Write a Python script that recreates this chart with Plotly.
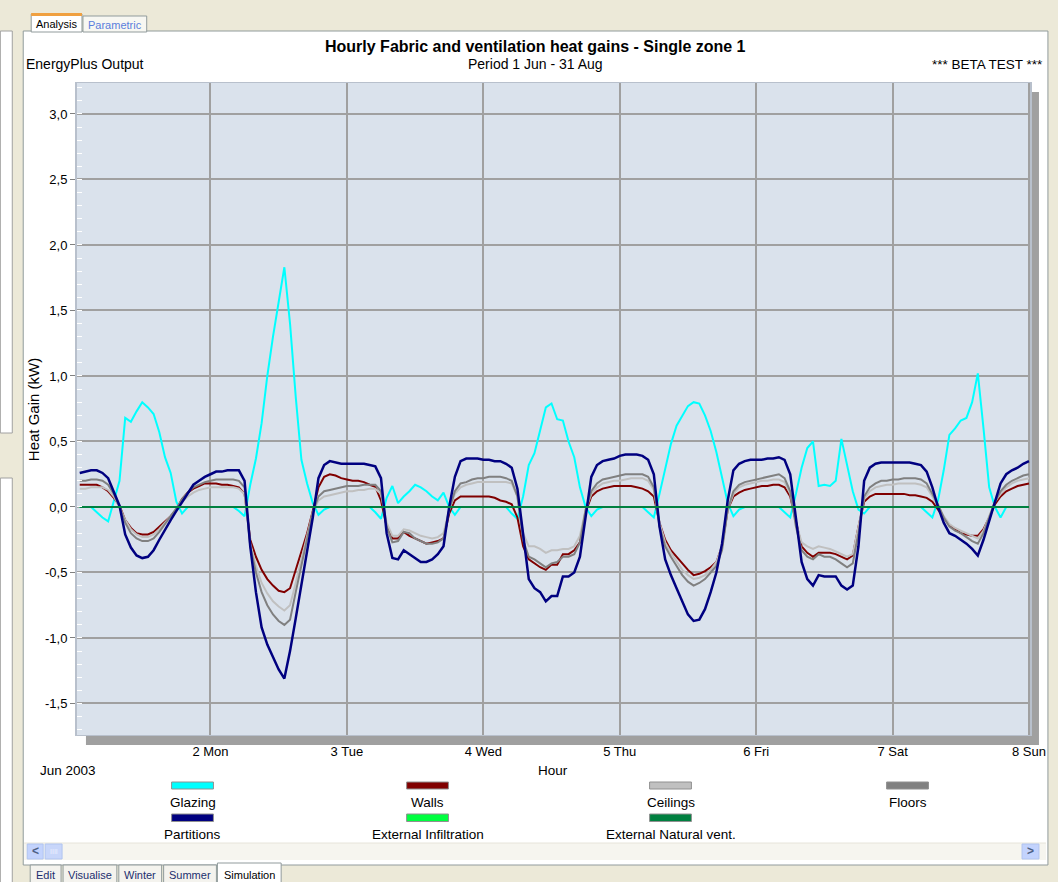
import plotly.graph_objects as go

# ---------------- data ----------------
hours = list(range(1, 169))  # hourly timesteps from 1 Jun 01:00

glazing = (
    [0, 0, 0, -0.04, -0.08, -0.11, 0.04, 0.2, 0.68, 0.65, 0.73, 0.8, 0.76, 0.71, 0.57, 0.38, 0.26, 0.04, -0.05, 0, 0, 0, 0, 0]
    + [0, 0, 0, 0, -0.03, -0.07, 0.17, 0.37, 0.64, 1.0, 1.3, 1.57, 1.83, 1.4, 0.84, 0.36, 0.18, 0.03, -0.06, -0.02, 0, 0, 0, 0]
    + [0, 0, 0, 0, -0.04, -0.09, 0.07, 0.16, 0.03, 0.08, 0.12, 0.17, 0.15, 0.12, 0.08, 0.05, 0.11, 0.0, -0.06, 0, 0, 0, 0, 0]
    + [0, 0, 0, 0, -0.05, -0.09, 0.08, 0.32, 0.41, 0.59, 0.76, 0.79, 0.67, 0.66, 0.5, 0.38, 0.15, 0.0, -0.07, -0.02, 0, 0, 0, 0]
    + [0, 0, 0, 0, -0.04, -0.08, 0.1, 0.3, 0.48, 0.62, 0.7, 0.77, 0.8, 0.79, 0.7, 0.58, 0.42, 0.22, 0.03, -0.07, -0.02, 0, 0, 0]
    + [0, 0, 0, 0, -0.04, -0.08, 0.1, 0.3, 0.45, 0.5, 0.16, 0.17, 0.16, 0.2, 0.52, 0.32, 0.12, -0.02, -0.05, 0, 0, 0, 0, 0]
    + [0, 0, 0, 0, 0, -0.04, -0.08, 0.05, 0.28, 0.55, 0.6, 0.66, 0.68, 0.8, 1.02, 0.6, 0.15, 0.0, -0.08, 0, 0, 0, 0, 0]
)

walls = (
    [0.17, 0.17, 0.17, 0.17, 0.15, 0.12, 0.07, 0.01, -0.1, -0.16, -0.2, -0.21, -0.21, -0.19, -0.15, -0.11, -0.07, -0.02, 0.06, 0.11, 0.14, 0.16, 0.18, 0.18]
    + [0.18, 0.17, 0.17, 0.16, 0.15, 0.1, -0.25, -0.38, -0.48, -0.55, -0.6, -0.64, -0.65, -0.62, -0.48, -0.35, -0.2, -0.03, 0.15, 0.23, 0.25, 0.24, 0.22, 0.21]
    + [0.2, 0.2, 0.19, 0.17, 0.155, 0.05, -0.15, -0.24, -0.24, -0.19, -0.22, -0.24, -0.26, -0.28, -0.27, -0.26, -0.24, -0.05, 0.05, 0.08, 0.08, 0.08, 0.08, 0.08]
    + [0.08, 0.07, 0.05, 0.04, 0.02, -0.08, -0.3, -0.4, -0.43, -0.46, -0.48, -0.44, -0.44, -0.36, -0.36, -0.33, -0.27, -0.04, 0.08, 0.12, 0.14, 0.15, 0.16, 0.16]
    + [0.16, 0.16, 0.15, 0.14, 0.12, 0.08, -0.12, -0.25, -0.33, -0.38, -0.43, -0.48, -0.52, -0.51, -0.49, -0.46, -0.42, -0.3, -0.02, 0.08, 0.11, 0.13, 0.14, 0.15]
    + [0.16, 0.16, 0.17, 0.17, 0.15, 0.08, -0.12, -0.3, -0.35, -0.38, -0.35, -0.35, -0.35, -0.36, -0.38, -0.4, -0.37, -0.15, 0.04, 0.08, 0.1, 0.1, 0.1, 0.1]
    + [0.1, 0.1, 0.09, 0.09, 0.08, 0.07, 0.04, -0.02, -0.08, -0.14, -0.17, -0.2, -0.21, -0.22, -0.22, -0.17, -0.08, 0.02, 0.08, 0.12, 0.14, 0.16, 0.17, 0.18]
)

ceilings = (
    [0.14, 0.14, 0.15, 0.15, 0.15, 0.13, 0.08, 0.0, -0.1, -0.17, -0.21, -0.23, -0.23, -0.21, -0.17, -0.12, -0.07, -0.02, 0.04, 0.08, 0.11, 0.13, 0.14, 0.15]
    + [0.15, 0.15, 0.15, 0.15, 0.14, 0.1, -0.28, -0.45, -0.58, -0.66, -0.72, -0.76, -0.79, -0.75, -0.58, -0.4, -0.22, -0.04, 0.05, 0.08, 0.09, 0.1, 0.11, 0.12]
    + [0.12, 0.13, 0.13, 0.14, 0.14, 0.1, -0.12, -0.22, -0.22, -0.17, -0.18, -0.2, -0.22, -0.23, -0.24, -0.23, -0.2, -0.02, 0.1, 0.15, 0.17, 0.18, 0.19, 0.19]
    + [0.19, 0.19, 0.19, 0.19, 0.18, 0.08, -0.2, -0.3, -0.3, -0.32, -0.35, -0.33, -0.33, -0.32, -0.32, -0.3, -0.22, -0.02, 0.1, 0.15, 0.18, 0.19, 0.2, 0.2]
    + [0.21, 0.22, 0.22, 0.22, 0.2, 0.13, -0.12, -0.27, -0.35, -0.42, -0.48, -0.52, -0.55, -0.54, -0.52, -0.48, -0.42, -0.3, -0.02, 0.1, 0.15, 0.17, 0.18, 0.19]
    + [0.2, 0.2, 0.21, 0.21, 0.19, 0.1, -0.12, -0.27, -0.3, -0.32, -0.3, -0.31, -0.32, -0.34, -0.36, -0.38, -0.36, -0.15, 0.06, 0.12, 0.15, 0.16, 0.17, 0.17]
    + [0.18, 0.18, 0.18, 0.18, 0.17, 0.15, 0.08, 0.0, -0.07, -0.13, -0.16, -0.18, -0.2, -0.22, -0.24, -0.18, -0.07, 0.04, 0.1, 0.15, 0.18, 0.2, 0.21, 0.22]
)

floors = (
    [0.2, 0.2, 0.21, 0.21, 0.2, 0.17, 0.1, 0.0, -0.12, -0.2, -0.24, -0.26, -0.26, -0.24, -0.19, -0.13, -0.07, -0.01, 0.06, 0.11, 0.15, 0.17, 0.19, 0.2]
    + [0.21, 0.21, 0.21, 0.21, 0.2, 0.15, -0.3, -0.5, -0.65, -0.75, -0.82, -0.87, -0.9, -0.86, -0.65, -0.45, -0.25, -0.04, 0.08, 0.12, 0.13, 0.14, 0.15, 0.16]
    + [0.16, 0.16, 0.17, 0.17, 0.17, 0.12, -0.15, -0.27, -0.26, -0.19, -0.2, -0.24, -0.26, -0.28, -0.28, -0.27, -0.24, -0.02, 0.12, 0.18, 0.19, 0.21, 0.22, 0.22]
    + [0.23, 0.23, 0.23, 0.22, 0.2, 0.08, -0.25, -0.38, -0.4, -0.43, -0.46, -0.43, -0.42, -0.38, -0.38, -0.36, -0.27, -0.02, 0.12, 0.18, 0.21, 0.22, 0.23, 0.24]
    + [0.25, 0.25, 0.25, 0.25, 0.23, 0.15, -0.15, -0.3, -0.38, -0.45, -0.52, -0.57, -0.6, -0.58, -0.55, -0.5, -0.45, -0.33, -0.02, 0.12, 0.17, 0.19, 0.2, 0.21]
    + [0.22, 0.23, 0.24, 0.25, 0.22, 0.12, -0.15, -0.33, -0.38, -0.4, -0.36, -0.38, -0.38, -0.4, -0.43, -0.46, -0.43, -0.2, 0.08, 0.15, 0.18, 0.2, 0.2, 0.21]
    + [0.21, 0.22, 0.22, 0.22, 0.21, 0.18, 0.1, 0.02, -0.08, -0.15, -0.18, -0.2, -0.23, -0.26, -0.28, -0.2, -0.08, 0.04, 0.12, 0.17, 0.2, 0.22, 0.24, 0.25]
)

partitions = (
    [0.26, 0.27, 0.28, 0.28, 0.26, 0.22, 0.12, 0.01, -0.21, -0.31, -0.37, -0.39, -0.38, -0.33, -0.25, -0.17, -0.1, -0.03, 0.04, 0.11, 0.17, 0.2, 0.23, 0.25]
    + [0.27, 0.27, 0.28, 0.28, 0.28, 0.2, -0.3, -0.65, -0.92, -1.05, -1.15, -1.24, -1.31, -1.1, -0.85, -0.6, -0.35, -0.08, 0.22, 0.32, 0.35, 0.34, 0.33, 0.33]
    + [0.33, 0.33, 0.33, 0.32, 0.31, 0.22, -0.2, -0.39, -0.4, -0.33, -0.36, -0.39, -0.42, -0.42, -0.4, -0.36, -0.3, 0.0, 0.23, 0.35, 0.37, 0.37, 0.37, 0.36]
    + [0.36, 0.35, 0.35, 0.33, 0.3, 0.14, -0.2, -0.55, -0.62, -0.65, -0.72, -0.68, -0.68, -0.53, -0.53, -0.5, -0.38, -0.06, 0.23, 0.32, 0.35, 0.36, 0.37, 0.39]
    + [0.4, 0.4, 0.4, 0.39, 0.36, 0.25, -0.15, -0.4, -0.52, -0.62, -0.72, -0.82, -0.87, -0.86, -0.78, -0.65, -0.5, -0.28, 0.05, 0.28, 0.33, 0.35, 0.36, 0.36]
    + [0.36, 0.37, 0.37, 0.38, 0.36, 0.25, -0.1, -0.42, -0.55, -0.6, -0.52, -0.53, -0.53, -0.53, -0.6, -0.63, -0.6, -0.3, 0.2, 0.3, 0.33, 0.34, 0.34, 0.34]
    + [0.34, 0.34, 0.34, 0.33, 0.32, 0.27, 0.15, 0.0, -0.12, -0.2, -0.22, -0.25, -0.28, -0.32, -0.37, -0.25, -0.1, 0.05, 0.18, 0.25, 0.28, 0.3, 0.33, 0.35]
)

ext_infiltration = (
    [0, 0, 0, 0, 0, 0, 0, 0, 0, 0, 0, 0, 0, 0, 0, 0, 0, 0, 0, 0, 0, 0, 0, 0]
    + [0, 0, 0, 0, 0, 0, 0, 0, 0, 0, 0, 0, 0, 0, 0, 0, 0, 0, 0, 0, 0, 0, 0, 0]
    + [0, 0, 0, 0, 0, 0, 0, 0, 0, 0, 0, 0, 0, 0, 0, 0, 0, 0, 0, 0, 0, 0, 0, 0]
    + [0, 0, 0, 0, 0, 0, 0, 0, 0, 0, 0, 0, 0, 0, 0, 0, 0, 0, 0, 0, 0, 0, 0, 0]
    + [0, 0, 0, 0, 0, 0, 0, 0, 0, 0, 0, 0, 0, 0, 0, 0, 0, 0, 0, 0, 0, 0, 0, 0]
    + [0, 0, 0, 0, 0, 0, 0, 0, 0, 0, 0, 0, 0, 0, 0, 0, 0, 0, 0, 0, 0, 0, 0, 0]
    + [0, 0, 0, 0, 0, 0, 0, 0, 0, 0, 0, 0, 0, 0, 0, 0, 0, 0, 0, 0, 0, 0, 0, 0]
)

ext_natural_vent = (
    [0, 0, 0, 0, 0, 0, 0, 0, 0, 0, 0, 0, 0, 0, 0, 0, 0, 0, 0, 0, 0, 0, 0, 0]
    + [0, 0, 0, 0, 0, 0, 0, 0, 0, 0, 0, 0, 0, 0, 0, 0, 0, 0, 0, 0, 0, 0, 0, 0]
    + [0, 0, 0, 0, 0, 0, 0, 0, 0, 0, 0, 0, 0, 0, 0, 0, 0, 0, 0, 0, 0, 0, 0, 0]
    + [0, 0, 0, 0, 0, 0, 0, 0, 0, 0, 0, 0, 0, 0, 0, 0, 0, 0, 0, 0, 0, 0, 0, 0]
    + [0, 0, 0, 0, 0, 0, 0, 0, 0, 0, 0, 0, 0, 0, 0, 0, 0, 0, 0, 0, 0, 0, 0, 0]
    + [0, 0, 0, 0, 0, 0, 0, 0, 0, 0, 0, 0, 0, 0, 0, 0, 0, 0, 0, 0, 0, 0, 0, 0]
    + [0, 0, 0, 0, 0, 0, 0, 0, 0, 0, 0, 0, 0, 0, 0, 0, 0, 0, 0, 0, 0, 0, 0, 0]
)

series_names = ["Glazing", "Walls", "Ceilings", "Floors", "Partitions",
                "External Infiltration", "External Natural vent."]
series_values = [glazing, walls, ceilings, floors, partitions, ext_infiltration, ext_natural_vent]

day_ticks = [24, 48, 72, 96, 120, 144, 168]
day_labels = ["2 Mon", "3 Tue", "4 Wed", "5 Thu", "6 Fri", "7 Sat", "8 Sun"]
y_ticks = [-1.5, -1.0, -0.5, 0.0, 0.5, 1.0, 1.5, 2.0, 2.5, 3.0]
y_labels = ["-1,5", "-1,0", "-0,5", "0,0", "0,5", "1,0", "1,5", "2,0", "2,5", "3,0"]

title_text = "Hourly Fabric and ventilation heat gains - Single zone 1"
top_tabs = ["Analysis", "Parametric"]
bottom_tabs = ["Edit", "Visualise", "Winter", "Summer", "Simulation"]

# ---------------- styles ----------------
series_colors = ["#00FFFF", "#800000", "#C0C0C0", "#808080", "#000080", "#00FF40", "#008040"]
series_widths = [2, 2, 2, 2, 2.5, 2, 2]
FONT = "Liberation Sans, Arial, sans-serif"
W_FIG, H_FIG = 1058, 882
PL, PR, PT, PB = 77, 1034, 83, 735


def px(x):
    return (x - PL) / (PR - PL)


def py(y):
    return (PB - y) / (PB - PT)


shapes = []
annotations = []


def rect(x0, y0, x1, y1, fill, line=None, lw=1, layer="below"):
    shapes.append(dict(type="rect", xref="paper", yref="paper",
                       x0=px(x0), x1=px(x1), y0=py(y1), y1=py(y0),
                       fillcolor=fill, layer=layer,
                       line=dict(color=line if line else "rgba(0,0,0,0)", width=lw if line else 0)))


def hline(x0, x1, y, color, lw=1):
    shapes.append(dict(type="line", xref="paper", yref="paper", x0=px(x0), x1=px(x1),
                       y0=py(y), y1=py(y), line=dict(color=color, width=lw), layer="below"))


def text(x, y, s, size=13, color="black", xanchor="center", angle=0, bold=False):
    annotations.append(dict(xref="paper", yref="paper", x=px(x), y=py(y),
                            text="<b>%s</b>" % s if bold else s,
                            showarrow=False, xanchor=xanchor, yanchor="middle",
                            textangle=angle, font=dict(family=FONT, size=size, color=color)))


# window chrome
rect(0, 31, 12, 433, "white", "#A0A0A0")
rect(0, 478, 12, 890, "white", "#A0A0A0")
rect(23, 31, 1052, 865, "white", "#919B9C")
# chart shadow + plot background
rect(86, 92, 1043, 745, "#A0A0A0")
rect(PL, PT, PR, PB, "#DAE2EC")

# top tabs
rect(83, 16, 147, 32, "#F7F7F2", "#919B9C")
rect(31, 14, 82, 32, "white", "#919B9C")
rect(31, 13, 82, 16, "#F0A040")
text(56.5, 24.5, top_tabs[0], size=11, color="black")
text(115, 25, top_tabs[1], size=11, color="#5A7EDC")

# bottom tabs
tab_x = [(30, 61), (63, 117), (119, 162), (164, 217), (218, 282)]
for (a, b), name in zip(tab_x, bottom_tabs):
    active = name == "Simulation"
    rect(a, 865 if not active else 863, b, 884, "white" if active else "#F4F3EE", "#919B9C")
    text((a + b) / 2, 875, name, size=11, color="black" if active else "#1C2F6E")

# scrollbar
rect(24, 843, 1050, 860, "#F6F5EF")
hline(24, 1050, 843, "#E6E4DA")
rect(27, 844, 43, 859, "#C3D3FD", "#B0C4F0")
rect(45, 844, 62, 859, "#C8D6FA", "#B0C4F0")
rect(1026, 844, 1043, 859, "#C3D3FD", "#B0C4F0")
text(35, 851, "<", size=12, color="#4D6185", bold=True)
text(53.5, 851.5, "IIII", size=7, color="#EEF2FF")
text(1034.5, 851, ">", size=12, color="#4D6185", bold=True)

# chart texts
text(537, 46, title_text, size=16, bold=True)
text(24, 64, "EnergyPlus Output", size=14, xanchor="left")
text(537, 64, "Period 1 Jun - 31 Aug", size=14)
text(1049, 64, "*** BETA TEST ***", size=13.5, xanchor="right")
text(33, 410, "Heat Gain (kW)", size=15, angle=-90)
text(38, 770, "Jun 2003", size=13.5, xanchor="left")
text(555, 770, "Hour", size=13.5)

# legend (built from the series names/colours)
legend_cols = [193, 429, 673, 911]
legend_rows = [(782, 789, 802), (814, 821.5, 834)]
for i, (name, col) in enumerate(zip(series_names, series_colors)):
    r, c = divmod(i, 4)
    cx = legend_cols[c]
    y0, y1, ty = legend_rows[r]
    rect(cx - 21, y0, cx + 21, y1, col, "#909090")
    text(cx, ty, name, size=13.5)

fig = go.Figure()
for name, vals, col, lw in zip(series_names, series_values, series_colors, series_widths):
    fig.add_trace(go.Scatter(x=hours, y=vals, mode="lines", name=name,
                             line=dict(color=col, width=lw), showlegend=False,
                             hoverinfo="skip"))

fig.update_layout(
    width=W_FIG, height=H_FIG,
    margin=dict(l=PL, r=W_FIG - PR, t=PT, b=H_FIG - PB, pad=0),
    paper_bgcolor="#ECE9D8",
    plot_bgcolor="rgba(0,0,0,0)",
    showlegend=False,
    font=dict(family=FONT, size=13, color="black"),
    shapes=shapes,
    annotations=annotations,
    xaxis=dict(range=[0.52, 168.18], tickmode="array", tickvals=day_ticks, ticktext=day_labels,
               showgrid=True, gridcolor="#A0A0A0", gridwidth=2, zeroline=False,
               ticks="outside", ticklen=4, tickcolor="rgba(0,0,0,0)",
               tickfont=dict(family=FONT, size=13, color="black"),
               showline=True, linecolor="#B8C0CC", linewidth=1, mirror=True),
    yaxis=dict(range=[-1.7405, 3.2366], tickmode="array", tickvals=y_ticks, ticktext=y_labels,
               showgrid=True, gridcolor="#A0A0A0", gridwidth=2, zeroline=False,
               ticks="outside", ticklen=5, tickcolor="#808080", tickwidth=1,
               tickfont=dict(family=FONT, size=13, color="black"),
               minor=dict(ticks="inside", ticklen=5, tickcolor="white", tickwidth=1,
                          dtick=0.1, tick0=0, showgrid=False),
               showline=True, linecolor="#B8C0CC", linewidth=2, mirror=True),
)

fig.write_html("out.html", config={"displayModeBar": False},
               post_script="document.body.style.margin='0px';document.body.style.overflow='hidden';")
